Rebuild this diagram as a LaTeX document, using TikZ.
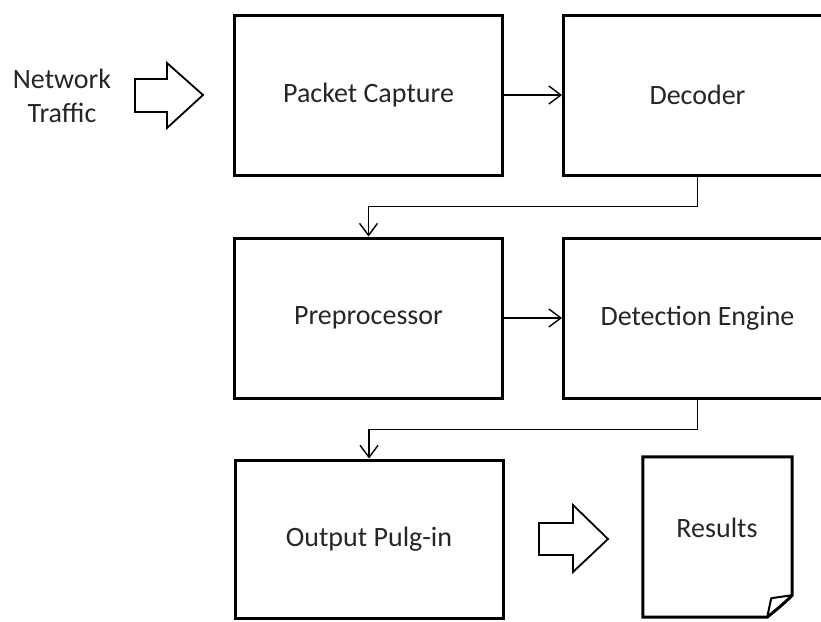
\documentclass[tikz,border=0pt]{standalone}
\usepackage{fontspec}
\setmainfont{Carlito}
\usetikzlibrary{arrows.meta}
\begin{document}
\begin{tikzpicture}[x=1pt,y=-1pt,
  font=\fontsize{28}{34}\selectfont,
  procbox/.style={draw, line width=3pt, minimum width=268pt, minimum height=160pt, inner sep=0pt, text=black!85},
  flow/.style={line width=1.4pt, -{Straight Barb[length=12pt,width=18pt,line width=1.4pt]}},
  blockarrow/.style={draw, line width=1.8pt, line join=miter, fill=white},
  lbl/.style={inner sep=0pt, text=black!85, align=center}
]
\clip (0,0) rectangle (821,621);
\fill[white] (0,0) rectangle (821,621);

\node[procbox] (pc)  at (368.5,95)  {Packet Capture};
\node[procbox] (dec) at (697.5,95)  {Decoder};
\node[procbox] (pre) at (368.5,318) {Preprocessor};
\node[procbox] (det) at (697.5,318) {Detection Engine};
\node[procbox, minimum height=158pt] (out) at (369,539) {Output Pulg-in};

\node[lbl] (net) at (62,96) {Network\\Traffic};

% Results document
\node[minimum width=149pt, minimum height=160pt, inner sep=0pt] (res) at (717.5,537) {};
\node[lbl] (restext) at (717,528) {Results};
\draw[line width=3pt, line join=miter]
  (res.south west) -- (res.north west) -- (res.north east) -- ([yshift=22pt]res.south east)
  .. controls ([xshift=-8pt,yshift=14pt]res.south east) .. ([xshift=-25pt]res.south east) -- cycle;
\draw[line width=2pt, line join=round]
  ([yshift=22pt]res.south east) -- ([xshift=-21pt,yshift=19pt]res.south east) -- ([xshift=-25pt]res.south east);

% connectors
\draw[flow] (pc.east) -- (dec.west);
\draw[flow] (pre.east) -- (det.west);
\draw[flow] (dec.south) -- ++(0,30) -| (pre.north);
\draw[flow] (det.south) -- ++(0,30) -| (out.north);

% block arrows
\draw[blockarrow] (135,79) -- (167,79) -- (167,63) -- (203,95) -- (167,128) -- (167,112) -- (135,112) -- cycle;
\draw[blockarrow] (539,523) -- (573,523) -- (573,505) -- (608,539) -- (573,572) -- (573,555) -- (539,555) -- cycle;
\end{tikzpicture}
\end{document}
